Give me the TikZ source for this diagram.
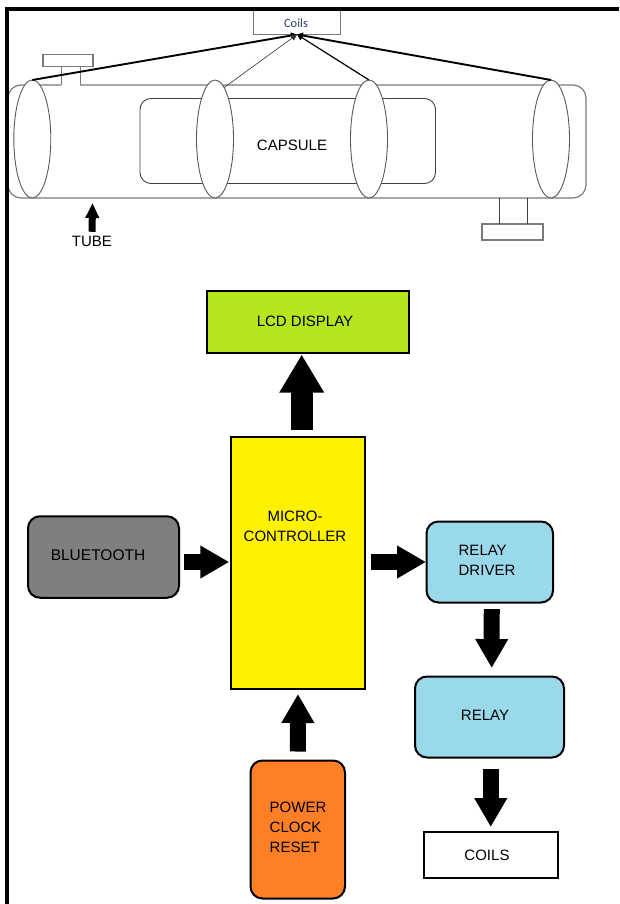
\documentclass[tikz,border=0pt]{standalone}
\usepackage{fontspec}
\setmainfont{Liberation Sans}
\newfontfamily\coilsfont{Carlito}
\usepackage{xcolor}
\usepackage{tikz}
\usetikzlibrary{arrows.meta, shapes.geometric}
\definecolor{lcdColor}{HTML}{B5E61D}
\definecolor{mcuColor}{HTML}{FFF200}
\definecolor{btColor}{HTML}{7F7F7F}
\definecolor{powerColor}{HTML}{FF7F27}
\definecolor{relayColor}{HTML}{99D9EA}
\definecolor{lineColor}{HTML}{7A7A7A}
\definecolor{coilsText}{HTML}{2A3F5F}

\tikzset{
    txt/.style={inner sep=0pt, outer sep=0pt, font=\fontsize{15}{20}\selectfont, align=center},
    block/.style={draw=black, line width=2pt, inner sep=0pt, outer sep=0pt},
    roundblock/.style={block, rounded corners=12pt},
    plain/.style={draw=lineColor, line width=1.2pt, inner sep=0pt, outer sep=0pt},
    ring/.style={ellipse, draw=black!65, fill=white, line width=0.9pt, inner sep=0pt, outer sep=0pt,
        minimum width=37pt, minimum height=118pt},
    bigarrow/.style={line width=16pt, -{Triangle[width=31pt,length=29pt]}},
    widearrow/.style={line width=22pt, -{Triangle[width=42pt,length=38pt]}},
    tinyarrow/.style={line width=7pt, -{Triangle[width=13pt,length=15pt]}},
    wire/.style={black, -{Triangle[width=6pt,length=6pt]}}
}

\begin{document}
\begin{tikzpicture}[x=1pt, y=-1pt]

    \useasboundingbox (0,0) rectangle (619,904);

    % tube with its two pipes
    \draw[plain, rounded corners=13pt] (80,85) -- (586,85) -- (586,198) -- (8,198) -- (8,85) -- (61,85);
    \draw[plain, draw=black!75, line width=0.9pt, rounded corners=11pt] (140,98.5) rectangle (435.5,183.5);
    \node[txt] (capsule) at (292,145) {CAPSULE};

    \node[plain, minimum width=50pt, minimum height=12.5pt] (topcap) at (68,60.5) {};
    \draw[plain, line width=1pt] (61,66.5) -- (61,85);
    \draw[plain, line width=1pt] (80,66.5) -- (80,85);
    \node[plain, minimum width=61pt, minimum height=16pt] (bottomcap) at (512.5,232) {};
    \draw[plain, line width=1pt, draw=black!75] (499,198) -- (499,224);
    \draw[plain, line width=1pt, draw=black!75] (527,198) -- (527,224);

    \node[ring] (ringa) at (32.3,139) {};
    \node[ring] (ringb) at (215,139) {};
    \node[ring] (ringc) at (369,139) {};
    \node[ring] (ringd) at (551,139) {};

    \node[plain, fill=white, minimum width=87.5pt, minimum height=25pt] (coilstop) at (297,22) {};
    \node[inner sep=0pt, text=coilsText, font=\coilsfont\fontsize{12.5}{14}\selectfont] (coilstext) at (296,23.5) {Coils};

    \draw[wire, line width=1.9pt] (ringa.north) -- (coilstop.south);
    \draw[wire, line width=0.6pt, black!80] (ringb.80) -- (coilstop.south);
    \draw[wire, line width=1.2pt] (ringc.north) -- (coilstop.south);
    \draw[wire, line width=1.9pt] (ringd.north) -- (coilstop.south);

    \node[txt] (tubetext) at (92,241) {TUBE};
    \coordinate (tubemark) at (92.5,203);
    \draw[tinyarrow, shorten <=4pt] (tubetext.north) -- (tubemark);

    % frame
    \draw[line width=4pt] (7,904) -- (7,9) -- (619,9);

    % block diagram
    \node[block, fill=lcdColor, minimum width=202pt, minimum height=62pt] (lcd) at (308,321.5) {};
    \node[block, fill=mcuColor, minimum width=134.5pt, minimum height=252pt] (mcu) at (298,563) {};
    \node[roundblock, fill=btColor, minimum width=151pt, minimum height=81.5pt] (bluetooth) at (103.5,557) {};
    \node[roundblock, fill=powerColor, minimum width=94.5pt, minimum height=138pt] (power) at (297.75,829.5) {};
    \node[roundblock, fill=relayColor, minimum width=126.5pt, minimum height=81pt] (driver) at (489.75,562) {};
    \node[roundblock, fill=relayColor, minimum width=149pt, minimum height=81pt] (relay) at (489.5,717) {};
    \node[block, fill=white, minimum width=133.5pt, minimum height=45.5pt] (coilsbox) at (490.75,854.75) {};

    \node[txt] (lcdtext) at (305,321) {LCD DISPLAY};
    \node[txt] (mcutext) at (295,526.5) {MICRO-\\CONTROLLER};
    \node[txt, font=\fontsize{15.5}{20}\selectfont] (bttext) at (98,555) {BLUETOOTH};
    \node[txt, align=left] (powertext) at (298,827.5) {POWER\\CLOCK\\RESET};
    \node[txt, align=left] (drivertext) at (487,560) {RELAY\\DRIVER};
    \node[txt] (relaytext) at (485,715) {RELAY};
    \node[txt] (coilstext2) at (487,855) {COILS};

    \draw[widearrow, shorten <=7pt, shorten >=2pt] ([xshift=3.7pt]mcu.north) -- ([xshift=-6.3pt]lcd.south);
    \draw[bigarrow, shorten <=5pt, shorten >=1.5pt] (bluetooth.east |- driver.west) -- (mcu.west |- driver.west);
    \draw[bigarrow, shorten <=6pt, shorten >=0.5pt] (mcu.east |- driver.west) -- (driver.west);
    \draw[bigarrow, shorten <=9pt, shorten >=5pt] (power.north) -- (mcu.south);
    \draw[bigarrow, shorten <=6.5pt, shorten >=8.5pt] ([xshift=2pt]driver.south) -- ([xshift=2.2pt]relay.north);
    \draw[bigarrow, shorten <=11.5pt, shorten >=5pt] (relay.south -| coilsbox.north) -- (coilsbox.north);

\end{tikzpicture}
\end{document}
